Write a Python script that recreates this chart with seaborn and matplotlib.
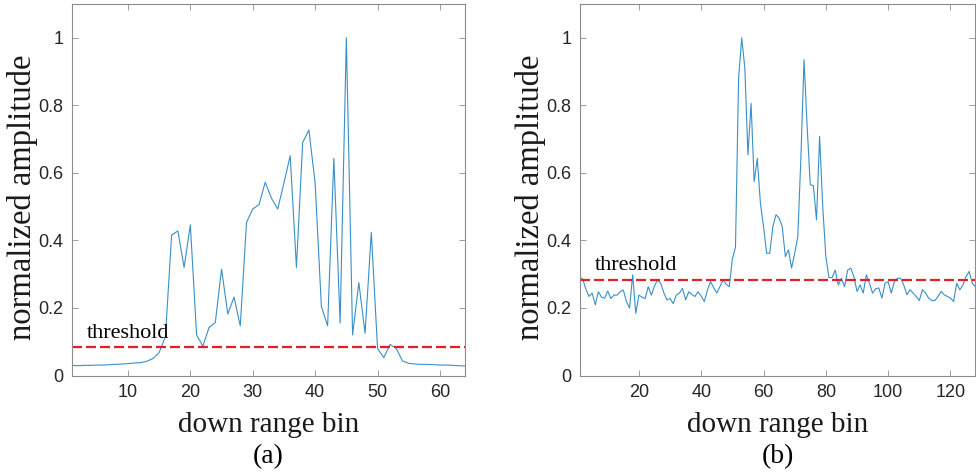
import matplotlib
matplotlib.use("Agg")
import matplotlib.pyplot as plt
import seaborn as sns
import numpy as np
import pandas as pd

# ---------------- data ----------------
bins_a = list(range(1, 65))
amp_a = [0.030, 0.029, 0.030, 0.030, 0.031, 0.031, 0.032, 0.033, 0.034, 0.035,
         0.037, 0.038, 0.042, 0.050, 0.068, 0.115, 0.416, 0.428, 0.320, 0.446,
         0.120, 0.087, 0.142, 0.157, 0.315, 0.182, 0.232, 0.147, 0.453, 0.493,
         0.506, 0.572, 0.525, 0.493, 0.570, 0.651, 0.320, 0.690, 0.727, 0.569,
         0.204, 0.147, 0.643, 0.155, 1.000, 0.120, 0.275, 0.125, 0.424, 0.080,
         0.053, 0.092, 0.080, 0.043, 0.036, 0.034, 0.033, 0.033, 0.032, 0.031,
         0.031, 0.030, 0.029, 0.028]
threshold_a = 0.083

bins_b = list(range(1, 129))
amp_b = [0.291, 0.285, 0.255, 0.234, 0.244, 0.209, 0.248, 0.232, 0.229, 0.250,
         0.228, 0.238, 0.238, 0.248, 0.253, 0.219, 0.200, 0.298, 0.184, 0.238,
         0.232, 0.228, 0.263, 0.238, 0.265, 0.283, 0.273, 0.245, 0.224, 0.228,
         0.213, 0.238, 0.244, 0.258, 0.224, 0.248, 0.240, 0.234, 0.248, 0.235,
         0.219, 0.253, 0.278, 0.260, 0.244, 0.263, 0.283, 0.270, 0.263, 0.345,
         0.380, 0.880, 1.000, 0.910, 0.653, 0.806, 0.574, 0.643, 0.510, 0.441,
         0.362, 0.362, 0.441, 0.476, 0.466, 0.441, 0.352, 0.372, 0.318, 0.362,
         0.411, 0.648, 0.935, 0.737, 0.565, 0.562, 0.461, 0.708, 0.500, 0.352,
         0.290, 0.290, 0.312, 0.268, 0.288, 0.263, 0.312, 0.318, 0.293, 0.249,
         0.268, 0.244, 0.298, 0.273, 0.244, 0.257, 0.259, 0.229, 0.273, 0.278,
         0.244, 0.278, 0.288, 0.288, 0.268, 0.239, 0.254, 0.244, 0.234, 0.222,
         0.254, 0.244, 0.229, 0.222, 0.222, 0.234, 0.249, 0.239, 0.234, 0.229,
         0.219, 0.273, 0.254, 0.268, 0.293, 0.308, 0.273, 0.263]
threshold_b = 0.283

xticks_a = [10, 20, 30, 40, 50, 60]
xticks_b = [20, 40, 60, 80, 100, 120]
yticks = [0, 0.2, 0.4, 0.6, 0.8, 1]
ytick_labels = ["0", "0.2", "0.4", "0.6", "0.8", "1"]
panel_labels = ["(a)", "(b)"]
xlabel = "down range bin"
ylabel = "normalized amplitude"
thr_text = "threshold"

# ---------------- style ----------------
sns.set_theme(style="white")
plt.rcParams["font.family"] = ["Liberation Sans", "DejaVu Sans"]

W, H = 976, 475
fig = plt.figure(figsize=(W / 100, H / 100), dpi=100)

axes_px = [(71.8, 464.9), (579.7, 975.4)]
bottom_px, top_px = 375.5, 4.0

line_color = "#3a8fc8"
thr_color = "#e41e26"
spine_color = "#8c8c8c"
tick_text = "#262626"
serif = ["Liberation Serif", "DejaVu Serif"]

panels = [
    (bins_a, amp_a, threshold_a, xticks_a, (1, 64), 3.4, 0.111),
    (bins_b, amp_b, threshold_b, xticks_b, (1, 128), 5.9, 0.3126),
]

for i, (bins, amp, thr, xt, xl, tx, ty) in enumerate(panels):
    l, r = axes_px[i]
    ax = fig.add_axes([l / W, (H - bottom_px) / H, (r - l) / W, (bottom_px - top_px) / H])
    df = pd.DataFrame({"bin": bins, "amp": amp})
    sns.lineplot(data=df, x="bin", y="amp", ax=ax, color=line_color, linewidth=0.8)
    ax.axhline(thr, color=thr_color, linewidth=1.6, dashes=(4.5, 1.8))
    ax.text(tx, ty, thr_text, fontsize=16, family=serif, color="black",
            ha="left", va="baseline")
    ax.set_xlim(*xl)
    ax.set_ylim(0, 1.1)
    ax.set_xticks(xt)
    ax.set_xticklabels([str(v) for v in xt])
    ax.set_yticks(yticks)
    ax.set_yticklabels(ytick_labels)
    ax.tick_params(direction="in", length=4, width=0.6, color=spine_color,
                   labelsize=13, labelcolor=tick_text, top=True, right=True,
                   left=True, bottom=True, pad=6)
    for s in ax.spines.values():
        s.set_visible(True)
        s.set_color(spine_color)
        s.set_linewidth(0.8)
    ax.set_xlabel(xlabel, fontsize=21, family=serif, color="#1a1a1a")
    ax.set_ylabel(ylabel, fontsize=23.5, family=serif, color="#1a1a1a")
    ax.xaxis.set_label_coords(0.5, -0.097)
    ax.xaxis.label.set_va("top")
    ax.yaxis.set_label_coords(-34 / (r - l), 0.48)
    fig.text((l + r) / 2 / W, (H - 457) / H, panel_labels[i], fontsize=20,
             family=serif, color="black", ha="center", va="center")

fig.savefig("out.png", dpi=100)
